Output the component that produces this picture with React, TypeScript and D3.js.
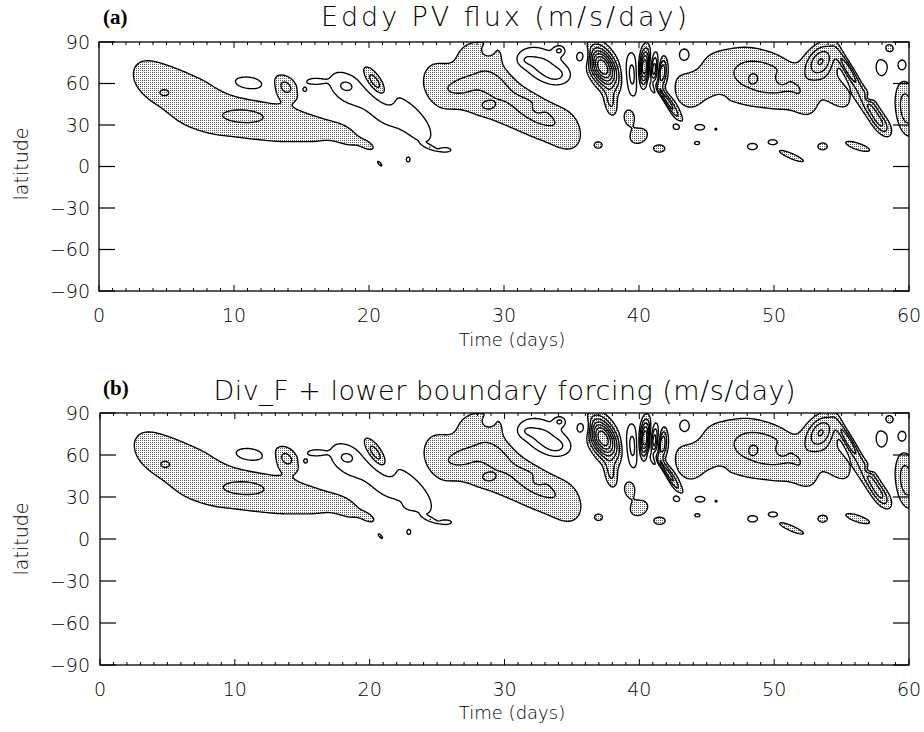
import React, { useMemo } from "react";
import * as d3 from "d3";

// ---------- data ----------
const dayTicks = [0, 10, 20, 30, 40, 50, 60];
const latTicks = [90, 60, 30, 0, -30, -60, -90];
const contourLevels = [1, 2, 3, 4, 5, 6, 7, 8, 9];
const shadeLevel = 1;

const panelTitles = ["Eddy PV flux (m/s/day)", "Div_F + lower boundary forcing (m/s/day)"];
const panelLetters = ["(a)", "(b)"];

// Field cells:
// [day, latitude, spread in days, spread in latitude, amplitude (m/s/day), tilt (deg lat per day)]
type Cell = [number, number, number, number, number, number];

const cellsShared: Cell[] = [
  // long positive tongue, days 2-20
  [3.5, 64, 1.4, 15, 1.2, -3],
  [6.0, 50, 1.4, 22, 1.06, -3],
  [8.5, 42, 1.4, 21, 1.06, -2.5],
  [11.0, 35, 1.4, 16, 1.06, -2],
  [13.5, 30, 1.4, 14, 1.06, -1.5],
  [16.0, 27, 1.4, 11, 1.1, -2],
  [18.5, 22, 1.1, 8, 1.1, -4],
  [20.0, 15, 0.5, 3, 0.9, -4],
  [4.8, 53, 0.45, 3, 0.7, 0],
  [10.7, 36.5, 1.6, 5, 0.85, 0],
  // small cells days 10-25
  [11.0, 60, 1.1, 4.5, -2.2, -1],
  [13.8, 58, 0.7, 6, 2.2, -3],
  [15.2, 55.5, 0.25, 2.5, -1.6, 0],
  [15.9, 61.5, 0.55, 2, -1.5, 0],
  [18.2, 57, 1.1, 10, -1.6, -4],
  [21.0, 45, 1.2, 13, -1.6, -5],
  [23.7, 31, 1.1, 12, -1.6, -6],
  [18.3, 58.5, 0.45, 3, -0.6, 0],
  [20.5, 60, 0.7, 6, 3.4, -9],
  // broad band days 23-36
  [24.8, 58, 1.0, 16, 1.3, -2],
  [27.3, 60, 1.4, 27, 1.06, -2],
  [29.8, 54, 1.4, 25, 1.06, -4],
  [32.3, 38, 1.4, 20, 1.06, -4],
  [34.8, 26, 1.2, 16, 1.15, -3],
  [26.8, 58, 1.0, 7, 1.0, 2],
  [29.2, 60, 0.9, 8, 0.9, -3],
  [32.2, 40, 1.4, 7, 1.1, -5],
  [28.8, 44, 0.4, 2.5, 1.2, 0],
  [28.6, 82, 1.1, 6, 0.8, 0],
  [32.5, 42, 0.3, 2.5, -1.0, 0],
  [28.8, 83.5, 0.3, 2.5, -2.0, 0],
  [32.8, 72, 1.4, 10, -2.6, -3],
  [31.4, 77, 0.5, 4, -0.8, 0],
  [34.0, 66, 0.6, 4, -0.8, 0],
  [34.1, 84, 0.3, 2.5, -1.8, 0],
  [35.9, 80, 0.45, 5, -2.2, 0],
  // strong cell near day 37
  [37.3, 72, 0.75, 9, 8, -6],
  [37.9, 46, 0.35, 7, 2.0, -6],
  // wave packet near day 40-43
  [39.5, 66, 0.4, 12, -2.5, -4],
  [40.4, 72, 0.3, 9, 6, 8],
  [41.1, 70, 0.25, 8, -4, 8],
  [41.7, 68, 0.25, 7, 4, 8],
  [42.1, 47, 0.7, 3.5, 3.2, -13],
  [41.5, 50, 0.5, 2.5, -1.6, -13],
  // band days 42-53
  [43.5, 55, 0.9, 12, 1.4, -2],
  [45.5, 66, 1.3, 18, 1.1, -2],
  [48.0, 63, 1.3, 20, 1.1, -2],
  [50.5, 58, 1.3, 18, 1.1, -3],
  [52.3, 48, 0.8, 10, 1.1, -5],
  [49.2, 66, 1.8, 11, 1.3, -2],
  [48.5, 64, 0.3, 3, -1.0, 0],
  [50.5, 64, 0.3, 3, -1.0, 0],
  [46.0, 48, 0.25, 2, -1.0, 0],
  [43.4, 80, 0.5, 6, -1.8, 0],
  // arc days 52-58
  [53.5, 77, 0.8, 8, 3.6, 4],
  [55.5, 70, 0.6, 4, 3.5, -14],
  [57.2, 42, 0.7, 6, 3.0, -12],
  [58.0, 30, 0.5, 5, 1.6, -6],
  [54.5, 55, 1.3, 12, 1.4, -6],
  // right edge
  [59.8, 42, 0.6, 14, 2.6, -6],
  [59.5, 73, 0.3, 4, -1.8, 0],
  [58.0, 72, 0.6, 9, -1.3, 0],
  [57.0, 49.5, 0.22, 2.2, -1.6, 0],
  [58.5, 85, 0.4, 4, 1.6, 0],
  // low-latitude cells
  [39.3, 36, 0.4, 6, 1.6, 0],
  [40.0, 22, 0.6, 5, 1.7, 2],
  [41.5, 13, 0.4, 2.5, 1.7, 0],
  [37.0, 15.5, 0.25, 2, 1.5, 0],
  [42.8, 29, 0.3, 2.5, -1.6, 0],
  [44.5, 28.5, 0.45, 2.5, -1.6, 0],
  [44.3, 17, 0.25, 1.5, -1.4, 0],
  [45.7, 27, 0.15, 1.2, -1.3, 0],
  [48.4, 14.5, 0.4, 2.5, -1.6, 0],
  [49.9, 17.5, 0.4, 2.2, -1.6, 0],
  [51.3, 7.5, 0.8, 1.8, 1.8, -4],
  [53.6, 14.5, 0.35, 2.5, 1.6, 0],
  [56.2, 14.5, 0.8, 2.2, 1.8, -3],
  [25.7, 12, 0.4, 1.5, -1.5, 0],
  [29.6, 14.5, 0.15, 1.2, -1.3, 0],
  [22.9, 5, 0.15, 2, -1.4, 0],
  [20.8, 2, 0.2, 1.2, 1.4, -8],
  [24.5, 14, 0.35, 1, -1.3, -4],
];

const cellsOnlyA: Cell[] = [];
const cellsOnlyB: Cell[] = [[23.0, 24, 0.3, 2, -0.8, 0]];

// ---------- layout ----------
const W = 924;
const H = 732;
const panelsLayout = [
  { x0: 99, x1: 909, y0: 42, y1: 291, titleY: 26, letterY: 24, tickY: 322, xTitleY: 346, latY: 164 },
  { x0: 100, x1: 909, y0: 413, y1: 665, titleY: 400, letterY: 395, tickY: 696, xTitleY: 719, latY: 539 },
];

const NX = 601;
const NY = 361;
const D_DAY = 60 / (NX - 1);
const D_LAT = 180 / (NY - 1);

function buildField(cells: Cell[]) {
  const v = new Float64Array(NX * NY);
  for (const [t0, l0, st, sl, a, k] of cells) {
    const i0 = Math.max(0, Math.floor((t0 - 4 * st) / D_DAY));
    const i1 = Math.min(NX - 1, Math.ceil((t0 + 4 * st) / D_DAY));
    for (let i = i0; i <= i1; i++) {
      const t = i * D_DAY;
      const dt = (t - t0) / st;
      const et = Math.exp(-0.5 * dt * dt);
      const lc = l0 + k * (t - t0);
      const jTop = Math.max(0, Math.floor((90 - (lc + 4 * sl)) / D_LAT));
      const jBot = Math.min(NY - 1, Math.ceil((90 - (lc - 4 * sl)) / D_LAT));
      for (let j = jTop; j <= jBot; j++) {
        const lat = 90 - j * D_LAT;
        const dl = (lat - lc) / sl;
        v[j * NX + i] += a * et * Math.exp(-0.5 * dl * dl);
      }
    }
  }
  return v;
}

const FONT = "'DejaVu Sans', 'Liberation Sans', sans-serif";

function Panel({ idx }: { idx: number }) {
  const L = panelsLayout[idx];
  const cells = idx === 0 ? [...cellsShared, ...cellsOnlyA] : [...cellsShared, ...cellsOnlyB];
  const data = useMemo(() => {
    const v = buildField(cells);
    const nv = new Float64Array(v.length);
    for (let i = 0; i < v.length; i++) nv[i] = -v[i];
    const gen = d3.contours().size([NX, NY]);
    const kx = (L.x1 - L.x0) / (NX - 1);
    const ky = (L.y1 - L.y0) / (NY - 1);
    const proj = d3.geoTransform({
      point: function (x: number, y: number) {
        (this as any).stream.point(L.x0 + (x - 0.5) * kx, L.y0 + (y - 0.5) * ky);
      },
    });
    const path = d3.geoPath(proj as any);
    const fill = path(gen.contour(v as any, shadeLevel) as any) || "";
    const lines: string[] = [];
    for (const lv of contourLevels) {
      lines.push(path(gen.contour(v as any, lv) as any) || "");
      lines.push(path(gen.contour(nv as any, lv) as any) || "");
    }
    return { fill, lines };
  }, [idx]);

  const x = d3.scaleLinear().domain([0, 60]).range([L.x0, L.x1]);
  const y = d3.scaleLinear().domain([-90, 90]).range([L.y1, L.y0]);
  const minorDays = d3.range(0, 61, 1);
  const clipId = `clip-${idx}`;

  return (
    <g>
      <defs>
        <clipPath id={clipId}>
          <rect x={L.x0} y={L.y0} width={L.x1 - L.x0} height={L.y1 - L.y0} />
        </clipPath>
      </defs>
      <g clipPath={`url(#${clipId})`}>
        <path d={data.fill} fill="url(#stipple)" stroke="none" />
        {data.lines.map((d, i) => (
          <path key={i} d={d} fill="none" stroke="#000" strokeWidth={1.35} strokeLinejoin="round" />
        ))}
      </g>
      <rect x={L.x0} y={L.y0} width={L.x1 - L.x0} height={L.y1 - L.y0} fill="none" stroke="#000" strokeWidth={1.3} />
      {minorDays.map((d) => {
        const len = d % 10 === 0 ? 6 : 3;
        return (
          <g key={d}>
            <line x1={x(d)} x2={x(d)} y1={L.y1} y2={L.y1 - len} stroke="#000" strokeWidth={1} />
            <line x1={x(d)} x2={x(d)} y1={L.y0} y2={L.y0 + len} stroke="#000" strokeWidth={1} />
          </g>
        );
      })}
      {latTicks.map((t) => (
        <g key={t}>
          <line x1={L.x0} x2={L.x0 + 16} y1={y(t)} y2={y(t)} stroke="#000" strokeWidth={1.2} />
          <line x1={L.x1} x2={L.x1 - 16} y1={y(t)} y2={y(t)} stroke="#000" strokeWidth={1.2} />
        </g>
      ))}
      {dayTicks.map((d) => (
        <text key={d} x={x(d)} y={L.tickY} textAnchor="middle" fontFamily={FONT} fontWeight={200} fontSize={19} fill="#000">
          {d}
        </text>
      ))}
      {latTicks.map((t) => (
        <text key={t} x={90} y={y(t)} dy="0.36em" textAnchor="end" fontFamily={FONT} fontWeight={200} fontSize={19} fill="#000">
          {t < 0 ? `\u2212${-t}` : `${t}`}
        </text>
      ))}
      <text x={512} y={L.xTitleY} textAnchor="middle" fontFamily={FONT} fontWeight={200} fontSize={18} fill="#000">
        Time (days)
      </text>
      <text
        transform={`translate(28,${L.latY}) rotate(-90)`}
        textAnchor="middle"
        fontFamily={FONT}
        fontWeight={200}
        fontSize={19}
        fill="#000"
      >
        latitude
      </text>
      <text
        x={(L.x0 + L.x1) / 2}
        y={L.titleY}
        textAnchor="middle"
        fontFamily={FONT}
        fontWeight={200}
        fontSize={27}
        textLength={idx === 0 ? 366 : 582}
        lengthAdjust="spacing"
        fill="#000"
      >
        {panelTitles[idx]}
      </text>
      <text x={103} y={L.letterY} fontFamily="'Liberation Serif', 'DejaVu Serif', serif" fontWeight="bold" fontSize={21} fill="#000">
        {panelLetters[idx]}
      </text>
    </g>
  );
}

export default function App() {
  return (
    <svg
      width={W}
      height={H}
      viewBox={`0 0 ${W} ${H}`}
      style={{ position: "absolute", left: 0, top: 0, background: "#fff" }}
    >
      <defs>
        <pattern id="stipple" x={0} y={0} width={2} height={2} patternUnits="userSpaceOnUse">
          <rect width={2} height={2} fill="#fff" />
          <rect x={0} y={0} width={1} height={1} fill="#5a5a5a" />
        </pattern>
      </defs>
      <rect width={W} height={H} fill="#fff" />
      <Panel idx={0} />
      <Panel idx={1} />
    </svg>
  );
}
